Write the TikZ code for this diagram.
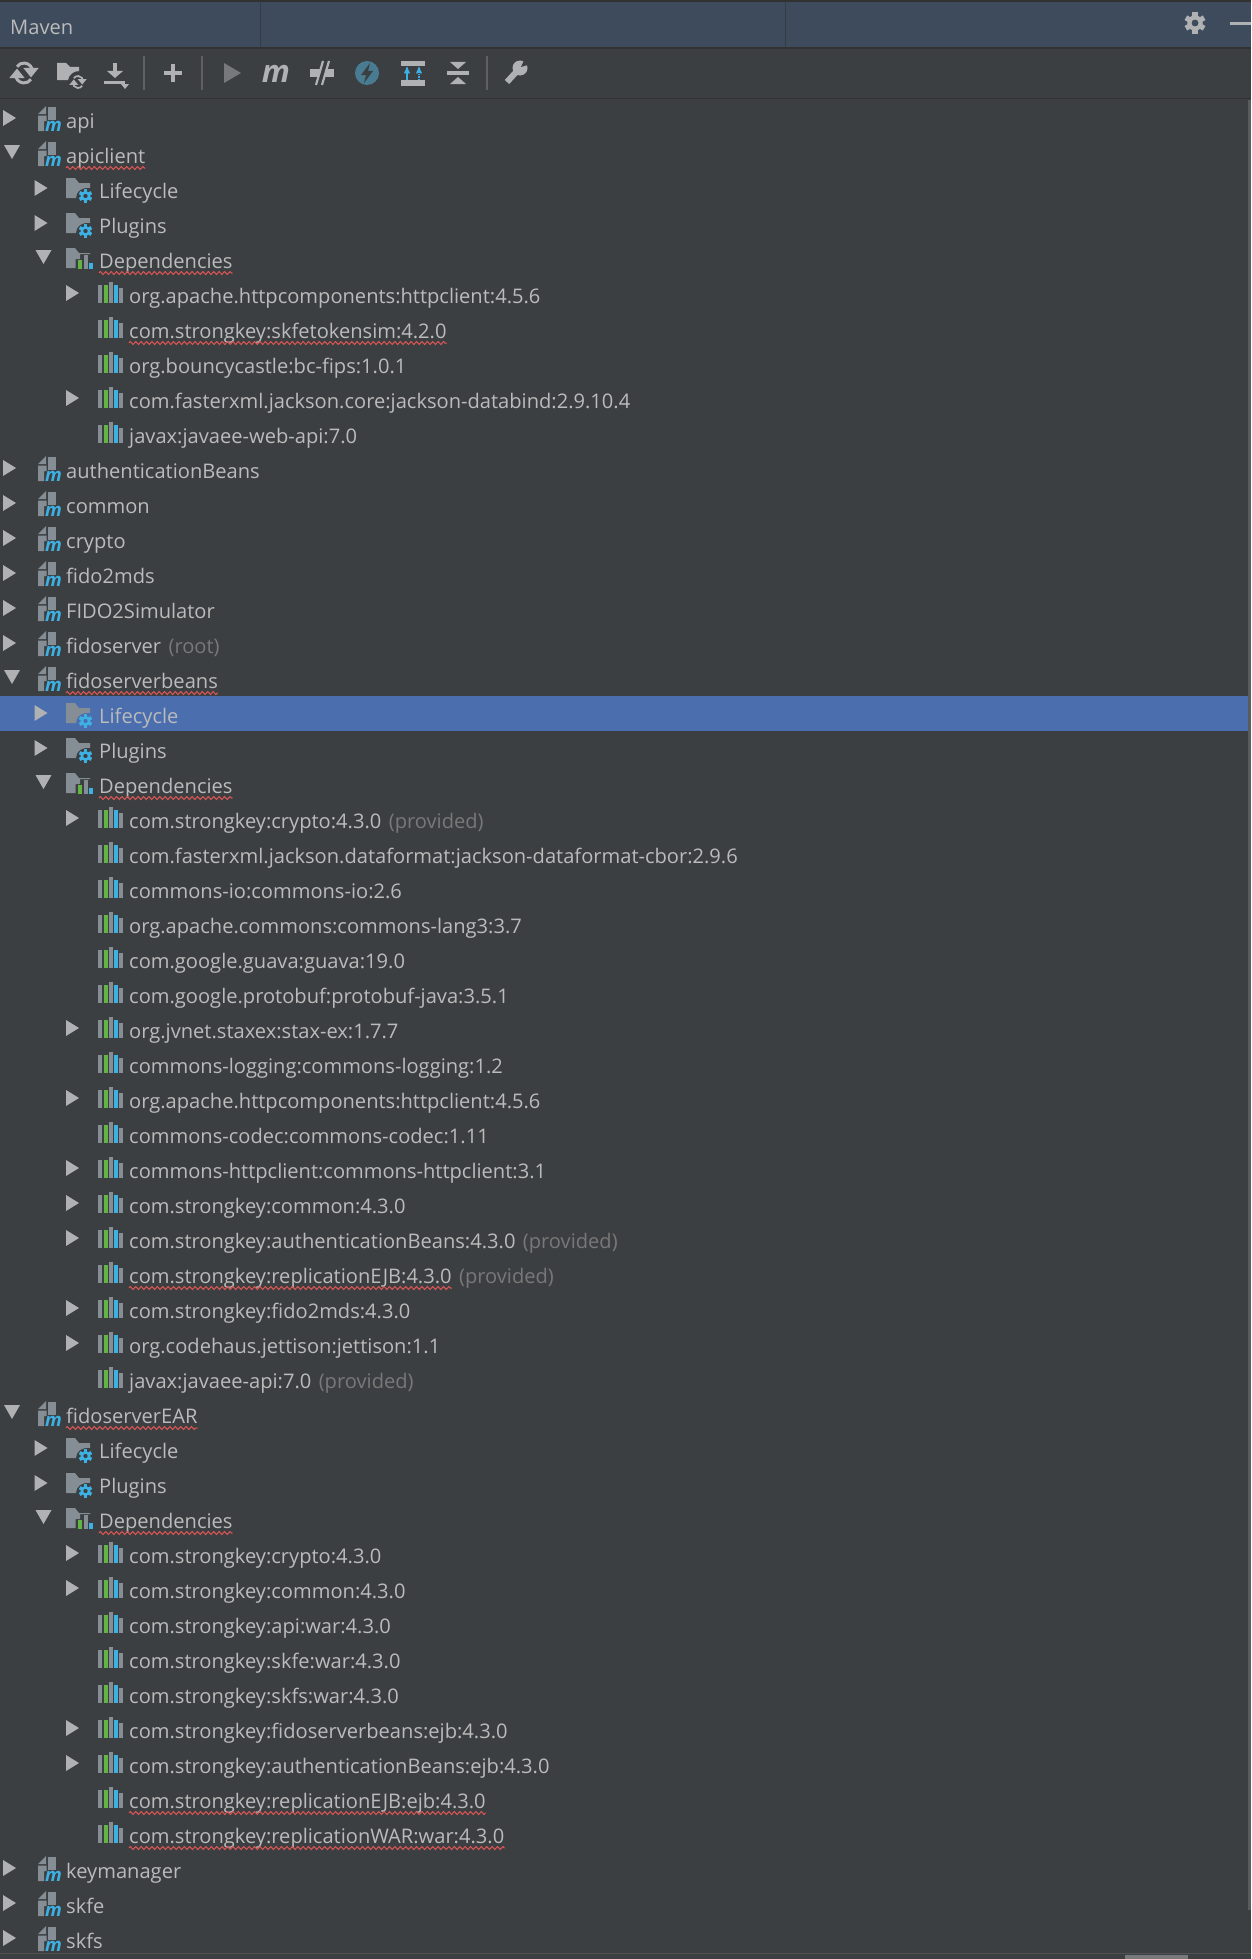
\documentclass[tikz,border=0pt]{standalone}
\usepackage{xcolor}
\usepackage{fontspec}
\setmainfont{Open Sans}
\usetikzlibrary{arrows}
\usetikzlibrary{calc}
\usetikzlibrary{decorations.pathmorphing}
\definecolor{panel}{HTML}{3C3F41}
\definecolor{titlebar}{HTML}{3D4B5C}
\definecolor{rule}{HTML}{323232}
\definecolor{selected}{HTML}{4B6EAF}
\definecolor{label}{HTML}{BBBBBB}
\definecolor{faded}{HTML}{787878}
\definecolor{squiggle}{HTML}{E05555}
\definecolor{light}{HTML}{AFB1B3}
\definecolor{slate}{HTML}{848E94}
\definecolor{sky}{HTML}{3DB1E4}
\definecolor{leaf}{HTML}{62B543}
\tikzset{
  gearwheel/.pic={
    \foreach \a in {0,60,...,300} \fill[pic actions,rotate=\a] (-1.7,3.5) rectangle (1.7,6.8);
    \fill[pic actions,even odd rule] (0,0) circle (5) (0,0) circle (2.3);
  },
  syncarrows/.pic={
    \draw[pic actions,fill=none] (175:8.5) arc (185:35:8.5);
    \draw[pic actions,fill=none] (-5:8.5) arc (5:-145:8.5);
    \fill[pic actions] (2.5,-3.5) -- (11.5,-3.5) -- (7,2) -- cycle;
    \fill[pic actions] (-11.5,3.5) -- (-2.5,3.5) -- (-7,-2) -- cycle;
  },
  shuttri/.pic={\fill[light] (0,-10) -- (13,-2) -- (0,6) -- cycle;},
  opentri/.pic={\fill[light] (1,-10) -- (17,-10) -- (9,4) -- cycle;},
  noarrow/.pic={},
  modicon/.pic={
    \fill[slate] (0,-6) -- (8,-14) -- (8,-6) -- cycle;
    \fill[slate] (9.5,-13) -- (17.5,-13) -- (17.5,0) -- (9.5,0) -- cycle;
    \fill[slate] (0,-4.5) -- (8.5,-4.5) -- (8.5,1) -- (6,1) -- (6,11) -- (0,11) -- cycle;
    \node[mark text,inner sep=0] (modmark) at (15.5,6.5) {m};
  },
  gearicon/.pic={
    \fill[slate] (0,-12) -- (9,-12) -- (13,-7) -- (24,-7) -- (24,-2)
      .. controls (16,-3) and (10,1) .. (10,8) -- (0,8) -- cycle;
    \pic[fill=sky] at (19.5,6) {gearwheel};
  },
  depicon/.pic={
    \fill[slate] (0,-12) -- (9,-12) -- (13,-7) -- (24,-7) -- (24,-6) -- (14,-6)
      -- (14,-1) -- (9.5,-1) -- (9.5,8) -- (0,8) -- cycle;
    \fill[leaf] (12,0) rectangle (16,9);
    \fill[slate] (17.5,-5) rectangle (21.5,9);
    \fill[sky] (23,3) rectangle (26.5,9);
  },
  baricon/.pic={
    \fill[slate] (0,-10) rectangle (4,8);
    \fill[leaf] (5.5,-10) rectangle (9.5,8);
    \fill[slate] (10.8,-13) rectangle (14.8,8);
    \fill[sky] (15.5,-10) rectangle (19.5,8);
    \fill[slate] (21,-7) rectangle (25,8);
  }
}
\begin{document}
\begin{tikzpicture}[x=1pt,y=-1pt,>=stealth',
      row text/.style={inner sep=0,anchor=base west,text=label,font=\fontsize{20.1}{24}\selectfont},
      note text/.style={inner sep=0,anchor=base west,text=faded,font=\fontsize{20.1}{24}\selectfont},
      mark text/.style={text=sky,font=\fontsize{18.5}{22}\selectfont\bfseries\itshape},
      wavy line/.style={squiggle,line width=1pt,decorate,decoration={zigzag,segment length=5.4pt,amplitude=1.5pt}},
      toolsep/.style={rule!40!gray,line width=1.4pt}]
    \useasboundingbox (0,0) rectangle (1251,1959);
    \fill[panel] (0,0) rectangle (1251,1959);
    \fill[titlebar] (0,2) rectangle (1251,47);
    \fill[rule] (0,0) rectangle (1251,2);
    \fill[rule] (0,47) rectangle (1251,49);
    \fill[rule] (0,98) rectangle (1251,99);
    \fill[rule!60!titlebar] (260,2) rectangle (261,47);
    \fill[rule!60!titlebar] (785,2) rectangle (786,47);
    \fill[panel!85!white] (1248,100) rectangle (1251,1910);
    \fill[panel!90!white] (0,1953) rectangle (1251,1954);
    \fill[panel!70!white] (1125,1955) rectangle (1188,1959);
    \fill[selected] (0,696) rectangle (1248,731);
    \node[row text] (maven) at (10,35) {Maven};
    \pic[fill=light,scale=1.55] at (1195,23) {gearwheel};
    \fill[light] (1230,22.5) rectangle (1251,25.5);

    \draw[toolsep] (144,56) -- (144,90);
    \draw[toolsep] (202,56) -- (202,90);
    \draw[toolsep] (487,56) -- (487,90);
    \pic[draw=light,fill=light,line width=3pt] at (24,73) {syncarrows};
    \fill[light] (57,63) -- (66,63) -- (70,67) -- (79,67) -- (79,71)
      .. controls (73,71) and (69,75) .. (68,80) -- (57,80) -- cycle;
    \pic[draw=light,fill=light,line width=1.7pt,scale=.6] at (78,82) {syncarrows};
    \fill[light] (113,63) rectangle (117,71);
    \fill[light] (107,71) -- (123,71) -- (115,78) -- cycle;
    \fill[light] (104,81) rectangle (125,84);
    \fill[light] (121,84) -- (129,84) -- (125,89) -- cycle;
    \fill[light] (164,71) rectangle (182,75);
    \fill[light] (171,64) rectangle (175,82);
    \fill[light!50!panel] (224,63) -- (241,73) -- (224,83) -- cycle;
    \node[text=light,inner sep=0,font=\fontsize{31}{32}\selectfont\bfseries\itshape] (mavenmark) at (276,73.5) {m};
    \fill[light] (310,69) rectangle (334,77);
    \draw[panel,line width=7pt] (319.5,85) -- (325.5,61);
    \draw[light,line width=2.2pt] (316,85) -- (323,61);
    \draw[light,line width=2.2pt] (322,85) -- (329,61);
    \fill[sky!55!gray!80!black] (367,73) circle (12);
    \fill[panel] (370,63) -- (361,75) -- (366,75) -- (364,83) -- (373,71) -- (368,71) -- cycle;
    \fill[light] (401,61) rectangle (425,66);
    \fill[light] (401,80) rectangle (425,86);
    \draw[->,sky,line width=1.3pt] (407,80) -- (407,67);
    \draw[->,sky,line width=1.3pt,densely dotted] (419,80) -- (419,67);
    \fill[light] (447,71) rectangle (469,75);
    \fill[light] (450,62) -- (466,62) -- (458,69) -- cycle;
    \fill[light] (450,84) -- (466,84) -- (458,77) -- cycle;
    \draw[light,line width=6pt] (507,82) -- (518,70);
    \fill[light] (520,68) circle (7.5);
    \fill[panel] (521,67) -- (525,58) -- (531,64) -- cycle;

    \foreach \d/\kind/\arr/\txt [count=\r from 0] in {
      0/modicon/shuttri/api,
      0/modicon/opentri/apiclient,
      1/gearicon/shuttri/Lifecycle,
      1/gearicon/shuttri/Plugins,
      1/depicon/opentri/Dependencies,
      2/baricon/shuttri/org.apache.httpcomponents:httpclient:4.5.6,
      2/baricon/noarrow/com.strongkey:skfetokensim:4.2.0,
      2/baricon/noarrow/org.bouncycastle:bc-fips:1.0.1,
      2/baricon/shuttri/com.fasterxml.jackson.core:jackson-databind:2.9.10.4,
      2/baricon/noarrow/javax:javaee-web-api:7.0,
      0/modicon/shuttri/authenticationBeans,
      0/modicon/shuttri/common,
      0/modicon/shuttri/crypto,
      0/modicon/shuttri/fido2mds,
      0/modicon/shuttri/FIDO2Simulator,
      0/modicon/shuttri/fidoserver,
      0/modicon/opentri/fidoserverbeans,
      1/gearicon/shuttri/Lifecycle,
      1/gearicon/shuttri/Plugins,
      1/depicon/opentri/Dependencies,
      2/baricon/shuttri/com.strongkey:crypto:4.3.0,
      2/baricon/noarrow/com.fasterxml.jackson.dataformat:jackson-dataformat-cbor:2.9.6,
      2/baricon/noarrow/commons-io:commons-io:2.6,
      2/baricon/noarrow/org.apache.commons:commons-lang3:3.7,
      2/baricon/noarrow/com.google.guava:guava:19.0,
      2/baricon/noarrow/com.google.protobuf:protobuf-java:3.5.1,
      2/baricon/shuttri/org.jvnet.staxex:stax-ex:1.7.7,
      2/baricon/noarrow/commons-logging:commons-logging:1.2,
      2/baricon/shuttri/org.apache.httpcomponents:httpclient:4.5.6,
      2/baricon/noarrow/commons-codec:commons-codec:1.11,
      2/baricon/shuttri/commons-httpclient:commons-httpclient:3.1,
      2/baricon/shuttri/com.strongkey:common:4.3.0,
      2/baricon/shuttri/com.strongkey:authenticationBeans:4.3.0,
      2/baricon/noarrow/com.strongkey:replicationEJB:4.3.0,
      2/baricon/shuttri/com.strongkey:fido2mds:4.3.0,
      2/baricon/shuttri/org.codehaus.jettison:jettison:1.1,
      2/baricon/noarrow/javax:javaee-api:7.0,
      0/modicon/opentri/fidoserverEAR,
      1/gearicon/shuttri/Lifecycle,
      1/gearicon/shuttri/Plugins,
      1/depicon/opentri/Dependencies,
      2/baricon/shuttri/com.strongkey:crypto:4.3.0,
      2/baricon/shuttri/com.strongkey:common:4.3.0,
      2/baricon/noarrow/com.strongkey:api:war:4.3.0,
      2/baricon/noarrow/com.strongkey:skfe:war:4.3.0,
      2/baricon/noarrow/com.strongkey:skfs:war:4.3.0,
      2/baricon/shuttri/com.strongkey:fidoserverbeans:ejb:4.3.0,
      2/baricon/shuttri/com.strongkey:authenticationBeans:ejb:4.3.0,
      2/baricon/noarrow/com.strongkey:replicationEJB:ejb:4.3.0,
      2/baricon/noarrow/com.strongkey:replicationWAR:war:4.3.0,
      0/modicon/shuttri/keymanager,
      0/modicon/shuttri/skfe,
      0/modicon/shuttri/skfs}
    {
      \pgfmathsetmacro\rowy{120+35*\r}
      \pgfmathsetmacro\arrx{3+31.5*\d}
      \pgfmathsetmacro\iconx{{38,66,98}[\d]}
      \pgfmathsetmacro\textx{{66,99,129}[\d]}
      \pic at (\arrx,\rowy) {\arr};
      \pic at (\iconx,\rowy) {\kind};
      \node[row text] (row\r) at (\textx,\rowy+8.5) {\txt};
    }
    \foreach \r/\note in {15/(root),20/(provided),32/(provided),33/(provided),36/(provided)}
      \node[note text] (note\r) at ($(row\r.base east)+(7,0)$) {\note};
    \foreach \r in {1,4,6,16,19,33,37,40,48,49}
      \draw[wavy line] ($(row\r.base west)+(0,4.5)$) -- ($(row\r.base east)+(0,4.5)$);
\end{tikzpicture}
\end{document}
